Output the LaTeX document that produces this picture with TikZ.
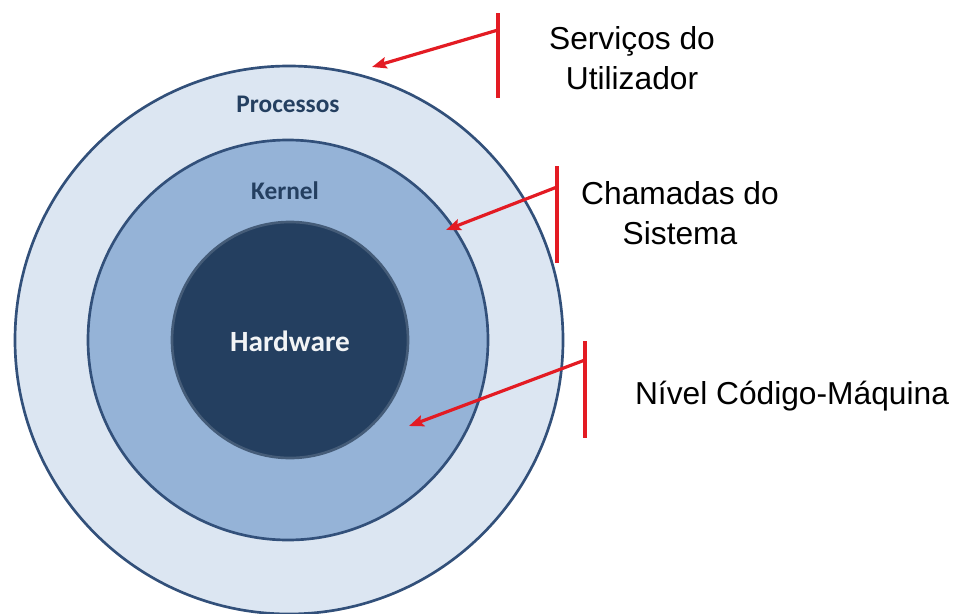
\documentclass[tikz,border=0pt]{standalone}
\usepackage{fontspec}
\setmainfont{Liberation Sans}
\newfontfamily\calibri{Carlito}
\usetikzlibrary{arrows.meta}
\definecolor{pale-blue}{HTML}{DCE6F2}
\definecolor{mid-blue}{HTML}{95B3D7}
\definecolor{navy}{HTML}{243F60}
\definecolor{ring-edge}{HTML}{32507A}
\definecolor{signal-red}{HTML}{E31B23}

\begin{document}
\begin{tikzpicture}[x=0.75pt, y=-0.75pt,
    ring/.style={circle, draw=ring-edge, line width=2pt, inner sep=0pt},
    layer/.style={font=\calibri\bfseries\fontsize{19}{22}\selectfont, text=navy},
    caption/.style={font=\fontsize{23.8}{30}\selectfont, align=center},
    redbar/.style={signal-red, line width=2.4pt},
    pointer/.style={signal-red, line width=2.4pt, -{Stealth[length=11pt, width=8.5pt, inset=2pt]}}]
    \useasboundingbox (0, 0) rectangle (957, 614);
    % the three layers
    \node[ring, fill=pale-blue, minimum size=411pt] (processos) at (289, 340) {};
    \node[ring, fill=mid-blue, minimum size=300pt] (kernel) at (288, 340) {};
    \node[ring, fill=navy, draw=navy!85!white, minimum size=177pt] (hardware) at (290, 340) {};
    \node[layer] (processos-lbl) at (288, 104) {Processos};
    \node[layer] (kernel-lbl) at (285, 191) {Kernel};
    \node[layer, text=white!94!navy, font=\calibri\bfseries\fontsize{22}{26}\selectfont] (hardware-lbl) at (290, 341) {Hardware};
    % captions
    \node[caption] (servicos) at (632, 58) {Serviços do\\Utilizador};
    \node[caption] (chamadas) at (680, 213) {Chamadas do\\Sistema};
    \node[caption, anchor=base] (nivel) at (792, 404) {Nível Código-Máquina};
    % bars and pointers
    \coordinate (bar1-top) at (498, 13);
    \coordinate (bar1-bot) at (498, 98);
    \coordinate (bar1-mid) at (498, 30);
    \coordinate (tip1) at (372, 67);
    \coordinate (bar2-top) at (557, 166);
    \coordinate (bar2-bot) at (557, 263);
    \coordinate (bar2-mid) at (557, 187);
    \coordinate (tip2) at (446, 230);
    \coordinate (bar3-top) at (585, 341);
    \coordinate (bar3-bot) at (585, 438);
    \coordinate (bar3-mid) at (585, 360);
    \coordinate (tip3) at (409, 426);
    \draw[redbar] (bar1-top) -- (bar1-bot);
    \draw[redbar] (bar2-top) -- (bar2-bot);
    \draw[redbar] (bar3-top) -- (bar3-bot);
    \draw[pointer] (bar1-mid) -- (tip1);
    \draw[pointer] (bar2-mid) -- (tip2);
    \draw[pointer] (bar3-mid) -- (tip3);
\end{tikzpicture}
\end{document}
